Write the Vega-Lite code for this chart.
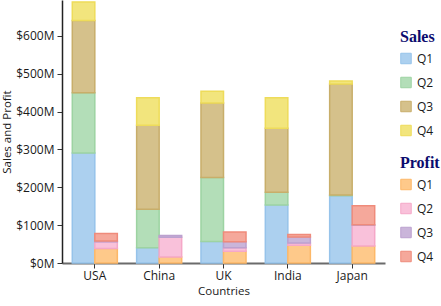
{
  "$schema": "https://vega.github.io/schema/vega-lite/v6.json",
  "autosize": {"type": "none"},
  "width": 323,
  "height": 263,
  "padding": {"left": 62, "top": 0, "right": 56, "bottom": 43},
  "background": "white",
  "data": {
    "values": [
      {"country": "USA", "type": "Sales", "quarter": "Q1", "value": 291},
      {"country": "USA", "type": "Sales", "quarter": "Q2", "value": 159},
      {"country": "USA", "type": "Sales", "quarter": "Q3", "value": 191},
      {"country": "USA", "type": "Sales", "quarter": "Q4", "value": 49},
      {"country": "China", "type": "Sales", "quarter": "Q1", "value": 40},
      {"country": "China", "type": "Sales", "quarter": "Q2", "value": 102},
      {"country": "China", "type": "Sales", "quarter": "Q3", "value": 222},
      {"country": "China", "type": "Sales", "quarter": "Q4", "value": 73},
      {"country": "UK", "type": "Sales", "quarter": "Q1", "value": 57},
      {"country": "UK", "type": "Sales", "quarter": "Q2", "value": 169},
      {"country": "UK", "type": "Sales", "quarter": "Q3", "value": 197},
      {"country": "UK", "type": "Sales", "quarter": "Q4", "value": 31},
      {"country": "India", "type": "Sales", "quarter": "Q1", "value": 153},
      {"country": "India", "type": "Sales", "quarter": "Q2", "value": 34},
      {"country": "India", "type": "Sales", "quarter": "Q3", "value": 169},
      {"country": "India", "type": "Sales", "quarter": "Q4", "value": 81},
      {"country": "Japan", "type": "Sales", "quarter": "Q1", "value": 178},
      {"country": "Japan", "type": "Sales", "quarter": "Q2", "value": 2},
      {"country": "Japan", "type": "Sales", "quarter": "Q3", "value": 293},
      {"country": "Japan", "type": "Sales", "quarter": "Q4", "value": 8},
      {"country": "USA", "type": "Profit", "quarter": "Q1", "value": 38},
      {"country": "USA", "type": "Profit", "quarter": "Q2", "value": 18},
      {"country": "USA", "type": "Profit", "quarter": "Q3", "value": 2},
      {"country": "USA", "type": "Profit", "quarter": "Q4", "value": 20},
      {"country": "China", "type": "Profit", "quarter": "Q1", "value": 16},
      {"country": "China", "type": "Profit", "quarter": "Q2", "value": 52},
      {"country": "China", "type": "Profit", "quarter": "Q3", "value": 5},
      {"country": "UK", "type": "Profit", "quarter": "Q1", "value": 31},
      {"country": "UK", "type": "Profit", "quarter": "Q2", "value": 9},
      {"country": "UK", "type": "Profit", "quarter": "Q3", "value": 16},
      {"country": "UK", "type": "Profit", "quarter": "Q4", "value": 26},
      {"country": "India", "type": "Profit", "quarter": "Q1", "value": 47},
      {"country": "India", "type": "Profit", "quarter": "Q2", "value": 6},
      {"country": "India", "type": "Profit", "quarter": "Q3", "value": 16},
      {"country": "India", "type": "Profit", "quarter": "Q4", "value": 6},
      {"country": "Japan", "type": "Profit", "quarter": "Q1", "value": 45},
      {"country": "Japan", "type": "Profit", "quarter": "Q2", "value": 55},
      {"country": "Japan", "type": "Profit", "quarter": "Q3", "value": 1},
      {"country": "Japan", "type": "Profit", "quarter": "Q4", "value": 50}
    ]
  },
  "encoding": {
    "x": {
      "field": "country", "type": "nominal",
      "sort": ["USA", "China", "UK", "India", "Japan"],
      "scale": {"paddingInner": 0.3, "paddingOuter": 0.16},
      "axis": {
        "title": "Countries", "labelAngle": 0, "domainColor": "#6b6b6b", "domainWidth": 2,
        "tickColor": "#333333", "tickSize": 5, "labelPadding": 2, "titlePadding": 4
      }
    },
    "xOffset": {"field": "type", "type": "nominal", "scale": {"domain": ["Sales", "Profit"], "paddingInner": 0, "paddingOuter": 0}},
    "y": {
      "field": "value", "type": "quantitative", "stack": "zero",
      "scale": {"domain": [0, 695], "nice": false},
      "axis": {
        "title": "Sales and Profit", "values": [0, 100, 200, 300, 400, 500, 600],
        "labelExpr": "'$' + datum.value + 'M'", "grid": false,
        "domainColor": "#222222", "domainWidth": 1.5, "tickColor": "#333333", "tickSize": 5,
        "labelPadding": 3, "titlePadding": 3
      }
    },
    "order": {"field": "quarter", "sort": "ascending"}
  },
  "layer": [
    {
      "transform": [{"filter": "datum.type === 'Sales'"}],
      "mark": {"type": "bar", "strokeWidth": 1.5},
      "encoding": {
        "fill": {"field": "quarter", "type": "nominal", "title": "Sales",
          "scale": {"domain": ["Q1", "Q2", "Q3", "Q4"], "range": ["#acd0ef", "#b3deb8", "#d5c18b", "#f2e57d"]},
          "legend": {"orient": "none", "legendX": 338, "legendY": 28.5}},
        "stroke": {"field": "quarter", "type": "nominal", "title": "Sales",
          "scale": {"domain": ["Q1", "Q2", "Q3", "Q4"], "range": ["#96c3ea", "#9dd3a2", "#c8ae6a", "#eedc5a"]},
          "legend": {"orient": "none", "legendX": 338, "legendY": 28.5}}
      }
    },
    {
      "transform": [{"filter": "datum.type === 'Profit'"}],
      "mark": {"type": "bar", "strokeWidth": 1.5},
      "encoding": {
        "fill": {"field": "quarter", "type": "nominal", "title": "Profit",
          "scale": {"domain": ["Q1", "Q2", "Q3", "Q4"], "range": ["#fec98a", "#f9c1da", "#cab5da", "#f5a89b"]},
          "legend": {"orient": "none", "legendX": 338, "legendY": 154.5}},
        "stroke": {"field": "quarter", "type": "nominal", "title": "Profit",
          "scale": {"domain": ["Q1", "Q2", "Q3", "Q4"], "range": ["#fdb868", "#f5a8c8", "#bca1cf", "#ef8b7b"]},
          "legend": {"orient": "none", "legendX": 338, "legendY": 154.5}}
      }
    }
  ],
  "resolve": {"scale": {"fill": "independent", "stroke": "independent"}},
  "config": {
    "view": {"stroke": null},
    "font": "Open Sans",
    "axis": {
      "labelFont": "Open Sans", "labelFontSize": 12, "labelColor": "#1a1a1a",
      "titleFont": "Open Sans", "titleFontSize": 11.5, "titleFontWeight": "normal", "titleColor": "#1a1a1a"
    },
    "legend": {
      "padding": 0, "rowPadding": 8,
      "titleFont": "Liberation Serif", "titleFontSize": 16, "titleFontWeight": "bold", "titleColor": "#0b0b6e",
      "titlePadding": 8,
      "labelFont": "Open Sans", "labelFontSize": 12, "labelColor": "#1a1a1a", "labelOffset": 5,
      "symbolType": "square", "symbolSize": 110, "symbolStrokeWidth": 1
    }
  }
}
